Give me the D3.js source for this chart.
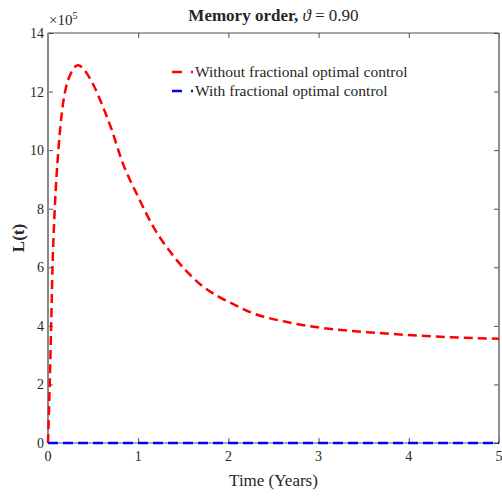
<!DOCTYPE html>
<html>
<head>
<meta charset="utf-8">
<script src="https://cdn.jsdelivr.net/npm/d3@7"></script>
<style>
  body { margin: 0; background: #fff; }
  text { font-family: "Liberation Serif", "DejaVu Serif", serif; fill: #262626; }
</style>
</head>
<body>
<div id="chart"></div>
<script>
// values in units of 10^5
var timeYears = [0, 0.01, 0.02, 0.035, 0.05, 0.075, 0.115, 0.165, 0.2, 0.25, 0.3, 0.33, 0.38, 0.43, 0.5, 0.6, 0.7, 0.83, 1.0, 1.17, 1.4, 1.68, 1.9, 2.07, 2.24, 2.65, 3.09, 3.65, 4.27, 5.0]
var withoutControl = [0, 1.0, 2.1, 4.0, 6.0, 8.0, 10.0, 11.55, 12.15, 12.6, 12.85, 12.9, 12.82, 12.62, 12.25, 11.55, 10.75, 9.55, 8.4, 7.37, 6.35, 5.44, 4.98, 4.72, 4.47, 4.13, 3.91, 3.76, 3.64, 3.56]
var withControl = [0, 0.002, 0.003, 0.004, 0.004, 0.004, 0.004, 0.004, 0.004, 0.004, 0.004, 0.004, 0.004, 0.004, 0.004, 0.004, 0.004, 0.004, 0.004, 0.004, 0.004, 0.004, 0.004, 0.004, 0.004, 0.004, 0.004, 0.004, 0.004, 0.004]
var xTicks = [0, 1, 2, 3, 4, 5]
var yTicks = [0, 2, 4, 6, 8, 10, 12, 14]
var seriesNames = ['Without fractional optimal control', 'With fractional optimal control']

var width = 502, height = 497
var margin = {top: 33, right: 3, bottom: 54, left: 48}

var svg = d3.select('#chart').append('svg')
    .attr('width', width)
    .attr('height', height)

var x = d3.scaleLinear().domain([0, 5]).range([margin.left, width - margin.right])
var y = d3.scaleLinear().domain([0, 14]).range([height - margin.bottom, margin.top])

var axisColor = '#262626'

// ticks inside, on all four sides
svg.append('g')
    .attr('transform', 'translate(0,' + y(0) + ')')
    .call(d3.axisTop(x).tickValues(xTicks).tickSize(5).tickFormat(''))
svg.append('g')
    .attr('transform', 'translate(0,' + y(14) + ')')
    .call(d3.axisBottom(x).tickValues(xTicks).tickSize(5).tickFormat(''))
svg.append('g')
    .attr('transform', 'translate(' + x(0) + ',0)')
    .call(d3.axisRight(y).tickValues(yTicks).tickSize(5).tickFormat(''))
svg.append('g')
    .attr('transform', 'translate(' + x(5) + ',0)')
    .call(d3.axisLeft(y).tickValues(yTicks).tickSize(5).tickFormat(''))
svg.selectAll('.domain').remove()
svg.selectAll('.tick line').attr('stroke', axisColor).attr('stroke-width', 0.8)

// tick labels
svg.append('g').selectAll('text')
    .data(xTicks)
    .enter()
    .append('text')
    .attr('x', function (d) { return x(d) })
    .attr('y', y(0) + 18)
    .attr('text-anchor', 'middle')
    .style('font-size', '14px')
    .text(function (d) { return d })

svg.append('g').selectAll('text')
    .data(yTicks)
    .enter()
    .append('text')
    .attr('x', x(0) - 4)
    .attr('y', function (d) { return y(d) + 5 })
    .attr('text-anchor', 'end')
    .style('font-size', '14px')
    .text(function (d) { return d })

// x10^5 multiplier
var mult = svg.append('text')
    .attr('x', x(0) + 1)
    .attr('y', y(14) - 8)
    .style('font-size', '15px')
mult.append('tspan').text('\u00d710')
mult.append('tspan').attr('dy', -6).style('font-size', '10px').text('5')

// frame
svg.append('rect')
    .attr('x', x(0))
    .attr('y', y(14))
    .attr('width', x(5) - x(0))
    .attr('height', y(0) - y(14))
    .attr('fill', 'none')
    .attr('stroke', axisColor)
    .attr('stroke-width', 0.8)
svg.append('line')
    .attr('x1', x(0)).attr('x2', x(0))
    .attr('y1', y(0)).attr('y2', y(14))
    .attr('stroke', '#888')
    .attr('stroke-width', 2)
svg.append('line')
    .attr('x1', x(5)).attr('x2', x(5))
    .attr('y1', y(0)).attr('y2', y(14))
    .attr('stroke', '#888')
    .attr('stroke-width', 1.5)

// lines
var line = d3.line()
    .x(function (d) { return x(d[0]) })
    .y(function (d) { return y(d[1]) })
    .curve(d3.curveMonotoneX)

svg.append('path')
    .datum(timeYears.map(function (t, i) { return [t, withoutControl[i]] }))
    .attr('d', line)
    .attr('fill', 'none')
    .attr('stroke', '#ff0000')
    .attr('stroke-width', 2.5)
    .attr('stroke-dasharray', '9,5')

svg.append('path')
    .datum(timeYears.map(function (t, i) { return [t, withControl[i]] }))
    .attr('d', line)
    .attr('fill', 'none')
    .attr('stroke', '#0000ff')
    .attr('stroke-width', 2.5)
    .attr('stroke-dasharray', '10,5')

// title
var title = svg.append('text')
    .attr('x', (x(0) + x(5)) / 2)
    .attr('y', 21)
    .attr('text-anchor', 'middle')
    .style('font-size', '17px')
title.append('tspan').style('font-weight', 'bold').text('Memory order, ')
title.append('tspan').style('font-style', 'italic').text('\u03d1')
title.append('tspan').text(' = 0.90')

// axis labels
svg.append('text')
    .attr('x', (x(0) + x(5)) / 2)
    .attr('y', 486)
    .attr('text-anchor', 'middle')
    .style('font-size', '17px')
    .text('Time (Years)')

svg.append('text')
    .attr('transform', 'translate(24,' + (y(0) + y(14)) / 2 + ') rotate(-90)')
    .attr('text-anchor', 'middle')
    .style('font-size', '17px')
    .style('font-weight', 'bold')
    .text('L(t)')

// legend
var colors = ['#ff0000', '#0000ff']
var legend = svg.append('g').selectAll('g')
    .data(seriesNames)
    .enter()
    .append('g')
    .attr('transform', function (d, i) { return 'translate(172,' + (72 + i * 19) + ')' })
legend.append('line')
    .attr('x1', 0).attr('x2', 21)
    .attr('stroke', function (d, i) { return colors[i] })
    .attr('stroke-width', 2.5)
    .attr('stroke-dasharray', '10,9')
legend.append('text')
    .attr('x', 23)
    .attr('y', 5)
    .style('font-size', '15.5px')
    .text(function (d) { return d })
</script>
</body>
</html>
